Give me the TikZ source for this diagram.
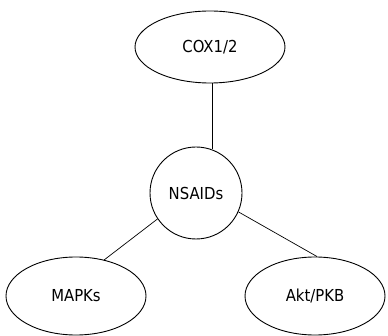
\documentclass[tikz,border=0pt]{standalone}
\usepackage{fontspec}
\setmainfont{DejaVu Sans Condensed}
\usetikzlibrary{shapes.geometric}
\begin{document}
\begin{tikzpicture}[x=1pt,y=-1pt,
  oval/.style={draw=black, line width=0.9pt, ellipse, inner sep=0pt, minimum width=#1, minimum height=78pt},
  hub/.style={draw=black, line width=0.9pt, circle, inner sep=0pt, minimum size=92pt},
  link/.style={draw=black, line width=0.7pt},
  font=\fontsize{16.5}{19}\selectfont]
\useasboundingbox[fill=white] (0,0) rectangle (388,336);
% nodes
\node[oval=150pt, minimum height=72pt] (cox) at (210,47) {COX1/2};
\node[hub] (nsaids) at (196,193) {NSAIDs};
\node[oval=140pt] (mapk) at (76,296) {MAPKs};
\node[oval=140pt] (akt) at (315,296) {Akt/PKB};
% connectors
\draw[link] (cox.south -| nsaids.70) -- (nsaids.70);
\draw[link] (nsaids.214) -- (mapk.52);
\draw[link] (nsaids.-24) -- (akt.87);
\end{tikzpicture}
\end{document}
